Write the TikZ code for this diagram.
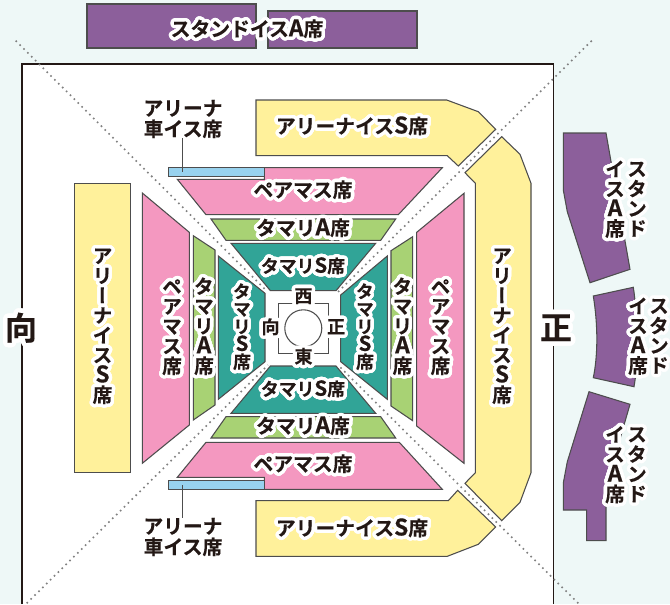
\documentclass[tikz,border=0pt]{standalone}
\usepackage{fontspec}
\usepackage{etoolbox}
\usepackage{contour}
\setmainfont{Noto Sans CJK JP}
\newfontfamily\jpfont[BoldFont=Noto Sans CJK JP Bold,BoldFeatures={FakeBold=0.35}]{Noto Sans CJK JP}
\newfontfamily\jpvfont[RawFeature=+vert,BoldFont=Noto Sans CJK JP Bold,BoldFeatures={FakeBold=0.35,RawFeature=+vert}]{Noto Sans CJK JP}
\contournumber{32}
\contourlength{2.6pt}
\definecolor{inkc}{HTML}{231815}
\definecolor{linec}{HTML}{4D4D4D}
\definecolor{floorc}{HTML}{EEF8F7}
\definecolor{purplec}{HTML}{8C5F9B}
\definecolor{yellowc}{HTML}{FFF19B}
\definecolor{pinkc}{HTML}{F498C0}
\definecolor{greenc}{HTML}{A8D274}
\definecolor{tealc}{HTML}{31A497}
\definecolor{bluec}{HTML}{98D2EE}
\newcommand{\halo}[1]{\contour{white}{#1}}
\newcommand{\lat}[1]{\scalebox{1.15}{#1}}
\newcommand{\vlab}[1]{%
\lineskiplimit=-\maxdimen
\setbox0=\vbox{\renewcommand*{\do}[1]{\hbox to 1.3em{\hss\contour{white}{\textcolor{white}{##1}}\hss}}\docsvlist{#1}}%
\setbox2=\vbox{\renewcommand*{\do}[1]{\hbox to 1.3em{\hss##1\hss}}\docsvlist{#1}}%
\hbox{\rlap{\box0}\box2}}
\tikzset{
  seat/.style={draw=linec,line width=0.8pt},
  lab/.style={inner sep=0pt,text=inkc,font=\jpfont\bfseries\fontsize{14.85}{15.6}\selectfont},
  smalllab/.style={lab,font=\jpfont\bfseries\fontsize{13.4}{13.4}\selectfont},
  vlabel/.style={lab,font=\jpvfont\bfseries\fontsize{14.85}{14.9}\selectfont},
  smallvlabel/.style={lab,font=\jpvfont\bfseries\fontsize{13.4}{13.2}\selectfont},
  dirlab/.style={lab,font=\jpfont\bfseries\fontsize{13.5}{14}\selectfont},
  biglab/.style={lab,font=\jpfont\bfseries\fontsize{24}{24}\selectfont},
  diag/.style={draw=gray,line width=1.2pt,dash pattern=on 1.2pt off 2.9pt},
  leader/.style={draw=linec,line width=0.6pt},
  ring/.style={draw=linec,line width=0.8pt}
}
\begin{document}
\begin{tikzpicture}[x=0.75pt,y=-0.75pt]
\useasboundingbox (0,0) rectangle (670,604);
\fill[floorc] (0,0) rectangle (670,604);
\fill[white] (22,64) rectangle (553.5,604);
\draw[inkc,line width=1pt] (22,604) -- (22,64) -- (553.5,64) -- (553.5,604);
\coordinate (tlout) at (15.7,40.7);
\coordinate (trout) at (591.7,40.7);
\coordinate (blout) at (26.7,603.3);
\coordinate (brout) at (578.3,603.3);
\coordinate (tlin) at (266.7,291);
\coordinate (trin) at (338,292);
\coordinate (blin) at (268,365);
\coordinate (brin) at (338,365);
\draw[diag] (tlout) -- (tlin);
\draw[diag] (trout) -- (trin);
\draw[diag] (blout) -- (blin);
\draw[diag] (brout) -- (brin);
\draw[seat,fill=purplec] (87,4) rectangle (256,48);
\draw[seat,fill=purplec] (268,11) rectangle (417,48);
\draw[seat,fill=purplec] (563.3,133) -- (606,133) -- (630,269.3) -- (590,282.7) -- (567.3,211.7) -- (563.3,190) -- cycle;
\draw[seat,fill=purplec] (593.3,296) -- (633.3,287.3) .. controls (637,310) and (639,360) .. (634,386.7) -- (593.3,377.7) .. controls (598,355) and (598,325) .. (593.3,296) -- cycle;
\draw[seat,fill=purplec] (589,391.7) -- (630,404.3) -- (606,487) -- (606,540.7) -- (586.7,540.7) -- (586.7,510) -- (563.3,510) -- (563.3,483) -- (567.3,461.7) -- cycle;
\draw[seat,fill=yellowc] (256,100) -- (446.7,100) -- (478.3,111.7) -- (495.7,129.3) -- (458.3,166) -- (447.3,155.7) -- (256,155.7) -- cycle;
\draw[seat,fill=yellowc] (256,500.7) -- (448.3,500.7) -- (457.7,490.3) -- (495.7,527) -- (478.3,544.3) -- (447.3,556.3) -- (256,556.3) -- cycle;
\draw[seat,fill=yellowc] (501.7,136.7) -- (520,154.3) -- (531,183.3) -- (531,472.7) -- (520,502.3) -- (501.7,520.7) -- (465,483.3) -- (475.3,472.7) -- (475.3,183.3) -- (465,172.7) -- cycle;
\draw[seat,fill=yellowc] (74.3,183.3) rectangle (130.3,472.3);
\draw[seat,fill=pinkc] (264.3,167.7) -- (442.3,167.7) -- (398.3,214.7) -- (206,214.7) -- (177.3,179.3) -- (264.3,179.3) -- cycle;
\draw[seat,fill=pinkc] (206,442.3) -- (399.3,442.3) -- (442.3,489.3) -- (264.3,489.3) -- (264.3,477.3) -- (177.3,477.3) -- cycle;
\draw[seat,fill=pinkc] (142.3,193) -- (189.3,232.3) -- (189.3,425) -- (142.3,463.3) -- cycle;
\draw[seat,fill=pinkc] (416.7,232.3) -- (464,193.3) -- (464,463.3) -- (416.7,426) -- cycle;
\draw[seat,fill=greenc] (211,219) -- (395.7,219) -- (380.7,240.3) -- (226,240.3) -- cycle;
\draw[seat,fill=greenc] (226,416.7) -- (380.7,416.7) -- (395.7,438) -- (211,438) -- cycle;
\draw[seat,fill=greenc] (193.3,235.7) -- (215,250) -- (215,405) -- (193.3,420) -- cycle;
\draw[seat,fill=greenc] (391,250.7) -- (412.7,236.7) -- (412.7,420.7) -- (391,406) -- cycle;
\draw[seat,fill=tealc] (231,243.3) -- (375.7,243.3) -- (336,290.7) -- (270.4,290.7) -- cycle;
\draw[seat,fill=tealc] (270.4,366) -- (336,366) -- (375.7,413.3) -- (231,413.3) -- cycle;
\draw[seat,fill=tealc] (218.3,256) -- (265,293.3) -- (265,361.7) -- (218.3,399.3) -- cycle;
\draw[seat,fill=tealc] (340.7,295) -- (387.3,256) -- (387.3,399.3) -- (340.7,361.7) -- cycle;
\draw[seat,fill=bluec] (168.3,167.7) rectangle (264.3,176.3);
\draw[seat,fill=bluec] (168.3,480.3) rectangle (264.3,489.3);
\coordinate (wctbar) at (182.7,171.7);
\coordinate (wcbbar) at (182.7,485);
\draw[ring] (278.3,303.3) rectangle (328.3,353.3);
\draw[ring,fill=white] (303.3,328.3) circle (18.5);
\node[lab] (standtop) at (247,30.5) {\halo{スタンドイス\lat{A}席}};
\node[lab,align=center] (wctop) at (183,119) {アリーナ\\車イス席};
\node[lab,align=center] (wcbottom) at (183,537) {アリーナ\\車イス席};
\draw[leader] (wctop.south -| wctbar) -- (wctbar);
\draw[leader] (wcbottom.north -| wcbbar) -- (wcbbar);
\node[lab] (arenatop) at (352,127.5) {\halo{アリーナイス\lat{S}席}};
\node[lab] (arenabottom) at (352,529.5) {\halo{アリーナイス\lat{S}席}};
\node[vlabel] (arenaleft) at (102.5,328) {\vlab{ア,リ,ー,ナ,イ,ス,\lat{S},席}};
\node[vlabel] (arenaright) at (502,328) {\vlab{ア,リ,ー,ナ,イ,ス,\lat{S},席}};
\node[lab] (pairtop) at (303,191.5) {\halo{ペアマス席}};
\node[lab] (pairbottom) at (303,465.5) {\halo{ペアマス席}};
\node[vlabel] (pairleft) at (172,329) {\vlab{ペ,ア,マ,ス,席}};
\node[vlabel] (pairright) at (440.5,329) {\vlab{ペ,ア,マ,ス,席}};
\node[lab] (tamatop) at (303,229.5) {\halo{タマリ\lat{A}席}};
\node[lab] (tamabottom) at (303,427.5) {\halo{タマリ\lat{A}席}};
\node[vlabel] (tamaleft) at (204,328) {\vlab{タ,マ,リ,\lat{A},席}};
\node[vlabel] (tamaright) at (402.5,328) {\vlab{タ,マ,リ,\lat{A},席}};
\node[smalllab] (tamsatop) at (303,267.5) {\halo{タマリ\lat{S}席}};
\node[smalllab] (tamsabottom) at (303,390.5) {\halo{タマリ\lat{S}席}};
\node[smallvlabel] (tamsaleft) at (242,328.5) {\vlab{タ,マ,リ,\lat{S},席}};
\node[smallvlabel] (tamsaright) at (365,328.5) {\vlab{タ,マ,リ,\lat{S},席}};
\node[dirlab] (west) at (303.5,298) {\halo{西}};
\node[dirlab] (east) at (303.5,358) {\halo{東}};
\node[dirlab] (front) at (270.5,328.5) {\halo{向}};
\node[dirlab] (main) at (336,328.5) {\halo{正}};
\contourlength{3.4pt}
\node[biglab] (bigfront) at (21,330) {\contour{white}{向}};
\node[biglab] (bigmain) at (556,330) {\contour{white}{正}};
\contourlength{2.6pt}
\node[vlabel] (stand1a) at (637,201) {\vlab{ス,タ,ン,ド}};
\node[vlabel] (stand1b) at (615,201) {\vlab{イ,ス,\lat{A},席}};
\node[vlabel] (stand2a) at (659,338) {\vlab{ス,タ,ン,ド}};
\node[vlabel] (stand2b) at (638,338) {\vlab{イ,ス,\lat{A},席}};
\node[vlabel] (stand3a) at (637,466.5) {\vlab{ス,タ,ン,ド}};
\node[vlabel] (stand3b) at (615,466.5) {\vlab{イ,ス,\lat{A},席}};
\end{tikzpicture}
\end{document}
